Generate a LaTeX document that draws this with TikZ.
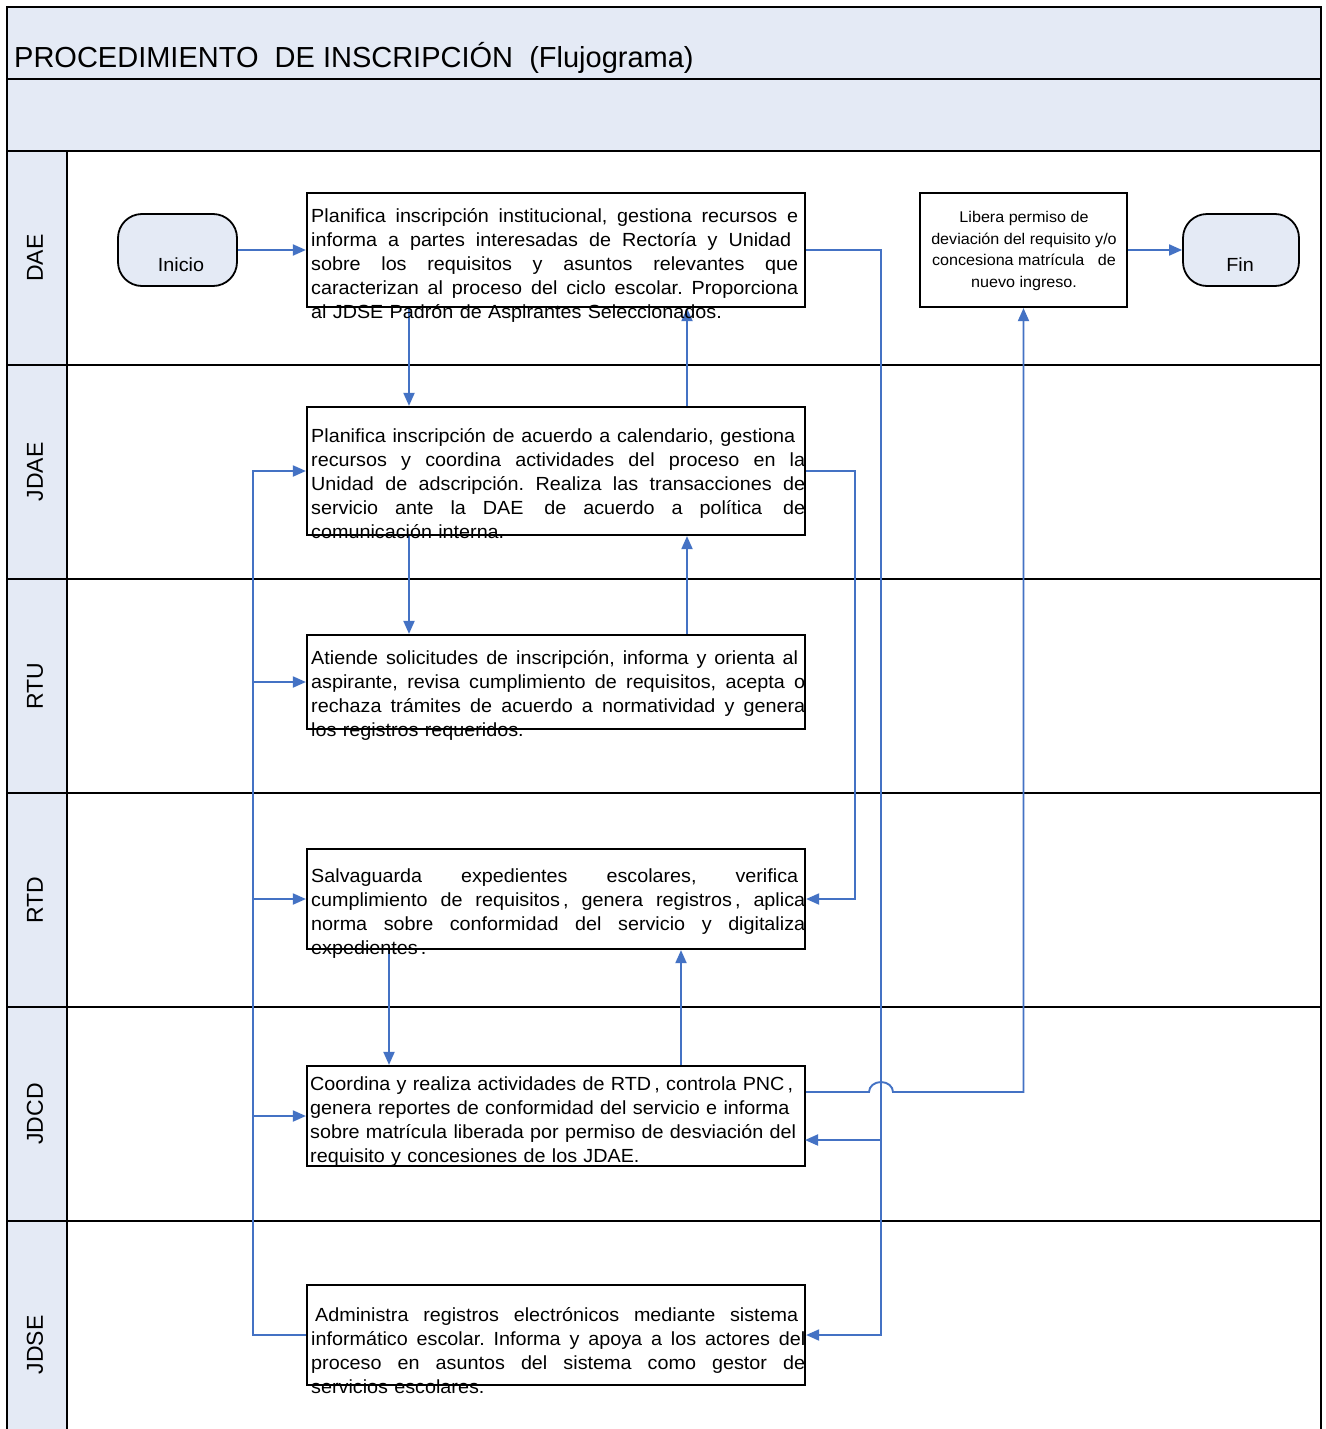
\documentclass[tikz,border=0pt]{standalone}
\usepackage{fontspec}
\setmainfont{Liberation Sans}
\newfontfamily\bodyf{Liberation Sans}[FakeStretch=1.04]
\usetikzlibrary{arrows.meta}
\definecolor{lb}{RGB}{228,234,245}
\definecolor{fl}{RGB}{68,114,196}
\newcommand{\jl}[2]{{\spaceskip=0pt\xspaceskip=0pt\makebox[#1][s]{#2}}}
\frenchspacing
\begin{document}
\begin{tikzpicture}[x=1pt,y=-1pt,
  box/.style={draw=black,line width=2.2pt,fill=white,inner sep=0pt},
  term/.style={draw=black,line width=1.8pt,fill=lb,rounded corners=24pt,inner sep=0pt,minimum height=72pt},
  txt/.style={inner sep=0pt,anchor=base west,text width=500pt,font=\bodyf\fontsize{19}{24}\selectfont\frenchspacing},
  flow/.style={draw=fl,line width=1.9pt,-{Triangle[length=13pt,width=11pt]}},
  frame/.style={draw=black,line width=2pt},
  lane/.style={rotate=90,inner sep=0pt,font=\fontsize{23}{27}\selectfont}]
\useasboundingbox (0,0) rectangle (1325,1429);
% backgrounds
\fill[white] (0,0) rectangle (1325,1429);
\fill[lb] (7,7) rectangle (1321,151);
\fill[lb] (7,151) rectangle (67,1429);
% frame
\draw[frame] (7,1429) -- (7,7) -- (1321,7) -- (1321,1429);
\draw[frame] (7,79) -- (1321,79);
\draw[frame] (7,151) -- (1321,151);
\foreach \yy in {365,579,793,1007,1221} \draw[frame] (7,\yy) -- (1321,\yy);
\draw[frame] (67,151) -- (67,1429);
% title and lanes
\node[inner sep=0pt,anchor=base west,font=\fontsize{29}{33}\selectfont] (title) at (14,67) {PROCEDIMIENTO~ DE INSCRIPCIÓN~ (Flujograma)};
\node[lane] (l1) at (35,258) {DAE};
\node[lane] (l2) at (35,472) {JDAE};
\node[lane] (l3) at (35,686) {RTU};
\node[lane] (l4) at (35,900) {RTD};
\node[lane] (l5) at (35,1114) {JDCD};
\node[lane] (l6) at (35,1345) {JDSE};
% shapes
\node[term,minimum width=119pt] (ini) at (177.5,250) {};
\node[term,minimum width=116pt] (fin) at (1241,250) {};
\node[box,minimum width=498pt,minimum height=114pt] (dae) at (556,250) {};
\node[box,minimum width=207pt,minimum height=114pt] (lib) at (1023.5,250) {};
\node[box,minimum width=498pt,minimum height=128pt] (jdae) at (556,471) {};
\node[box,minimum width=498pt,minimum height=94pt] (rtu) at (556,682) {};
\node[box,minimum width=498pt,minimum height=100pt] (rtd) at (556,899) {};
\node[box,minimum width=498pt,minimum height=100pt] (jdcd) at (556,1116) {};
\node[box,minimum width=498pt,minimum height=100pt] (jdse) at (556,1335) {};
% helper coordinates
\coordinate (xa) at (409,0);
\coordinate (xb) at (687,0);
\coordinate (xc) at (389,0);
\coordinate (xd) at (681,0);
\coordinate (yh) at (0,1092);
% connectors
\draw[flow] (ini.east) -- (dae.west);
\draw[flow] (lib.east) -- (fin.west);
\draw[flow] (dae.east) -- (881,250) -- (881,1335) -- (jdse.east);
\draw[flow] (881,1140) -- (805,1140);
\draw[flow] (dae.south -| xa) -- (jdae.north -| xa);
\draw[flow] (jdae.north -| xb) -- (dae.south -| xb);
\draw[flow] (jdae.south -| xa) -- (rtu.north -| xa);
\draw[flow] (rtu.north -| xb) -- (jdae.south -| xb);
\draw[flow] (rtd.south -| xc) -- (jdcd.north -| xc);
\draw[flow] (jdcd.north -| xd) -- (rtd.south -| xd);
\draw[flow] (jdae.east) -- (855,471) -- (855,899) -- (rtd.east);
\draw[flow] (jdcd.east |- yh) -- (869,1092) arc[start angle=180,end angle=360,x radius=12,y radius=10] -| (lib.south);
\draw[flow] (jdse.west) -- (253,1335) -- (253,471) -- (jdae.west);
\draw[flow] (253,682) -- (rtu.west);
\draw[flow] (253,899) -- (rtd.west);
\draw[flow] (253,1116) -- (jdcd.west);
% texts
\node[inner sep=0pt,anchor=base,font=\bodyf\fontsize{19}{23}\selectfont] (initxt) at (181,271) {Inicio};
\node[inner sep=0pt,anchor=base,font=\bodyf\fontsize{19}{23}\selectfont] (fintxt) at (1240,271) {Fin};
\node[inner sep=0pt,anchor=center,align=center,font=\bodyf\fontsize{15.5}{21.7}\selectfont] (libtxt) at (1024,251) {Libera permiso de\\deviación del requisito y/o\\concesiona matrícula~~ de\\nuevo ingreso.};
\node[txt] (t1) at (311,222) {\jl{487pt}{Planifica inscripción institucional, gestiona recursos e}\\
\jl{480pt}{informa a partes interesadas de Rectoría y Unidad}\\
\jl{487pt}{sobre los requisitos y asuntos relevantes que}\\
\jl{487pt}{caracterizan al proceso del ciclo escolar. Proporciona}\\
al JDSE Padrón de Aspirantes Seleccionados.};
\node[txt] (t2) at (311,442) {\jl{484pt}{Planifica inscripción de acuerdo a calendario, gestiona}\\
\jl{494pt}{recursos y coordina actividades del proceso en la}\\
\jl{494pt}{Unidad de adscripción. Realiza las transacciones de}\\
\jl{494pt}{servicio ante la DAE\hspace{4pt} de acuerdo a política\hspace{4pt} de}\\
comunicación interna.};
\node[txt] (t3) at (311,664) {\jl{487pt}{Atiende solicitudes de inscripción, informa y orienta al}\\
\jl{494pt}{aspirante, revisa cumplimiento de requisitos, acepta o}\\
\jl{494pt}{rechaza trámites de acuerdo a normatividad y genera}\\
los registros requeridos.};
\node[txt] (t4) at (311,882) {\jl{487pt}{Salvaguarda expedientes escolares, verifica}\\
\jl{494pt}{cumplimiento de requisitos\,, genera registros\,, aplica}\\
\jl{494pt}{norma sobre conformidad del servicio y digitaliza}\\
expedientes\,.};
\node[txt] (t5) at (310,1090) {Coordina y realiza actividades de RTD\,, controla PNC\,,\\
genera reportes de conformidad del servicio e informa\\
sobre matrícula liberada por permiso de desviación del\\
requisito y concesiones de los JDAE.};
\node[txt] (t6) at (311,1321) {\hspace*{4pt}\jl{483pt}{Administra registros electrónicos mediante sistema}\\
\jl{494pt}{informático escolar. Informa y apoya a los actores del}\\
\jl{494pt}{proceso en asuntos del sistema como gestor de}\\
servicios escolares.};
\end{tikzpicture}
\end{document}
